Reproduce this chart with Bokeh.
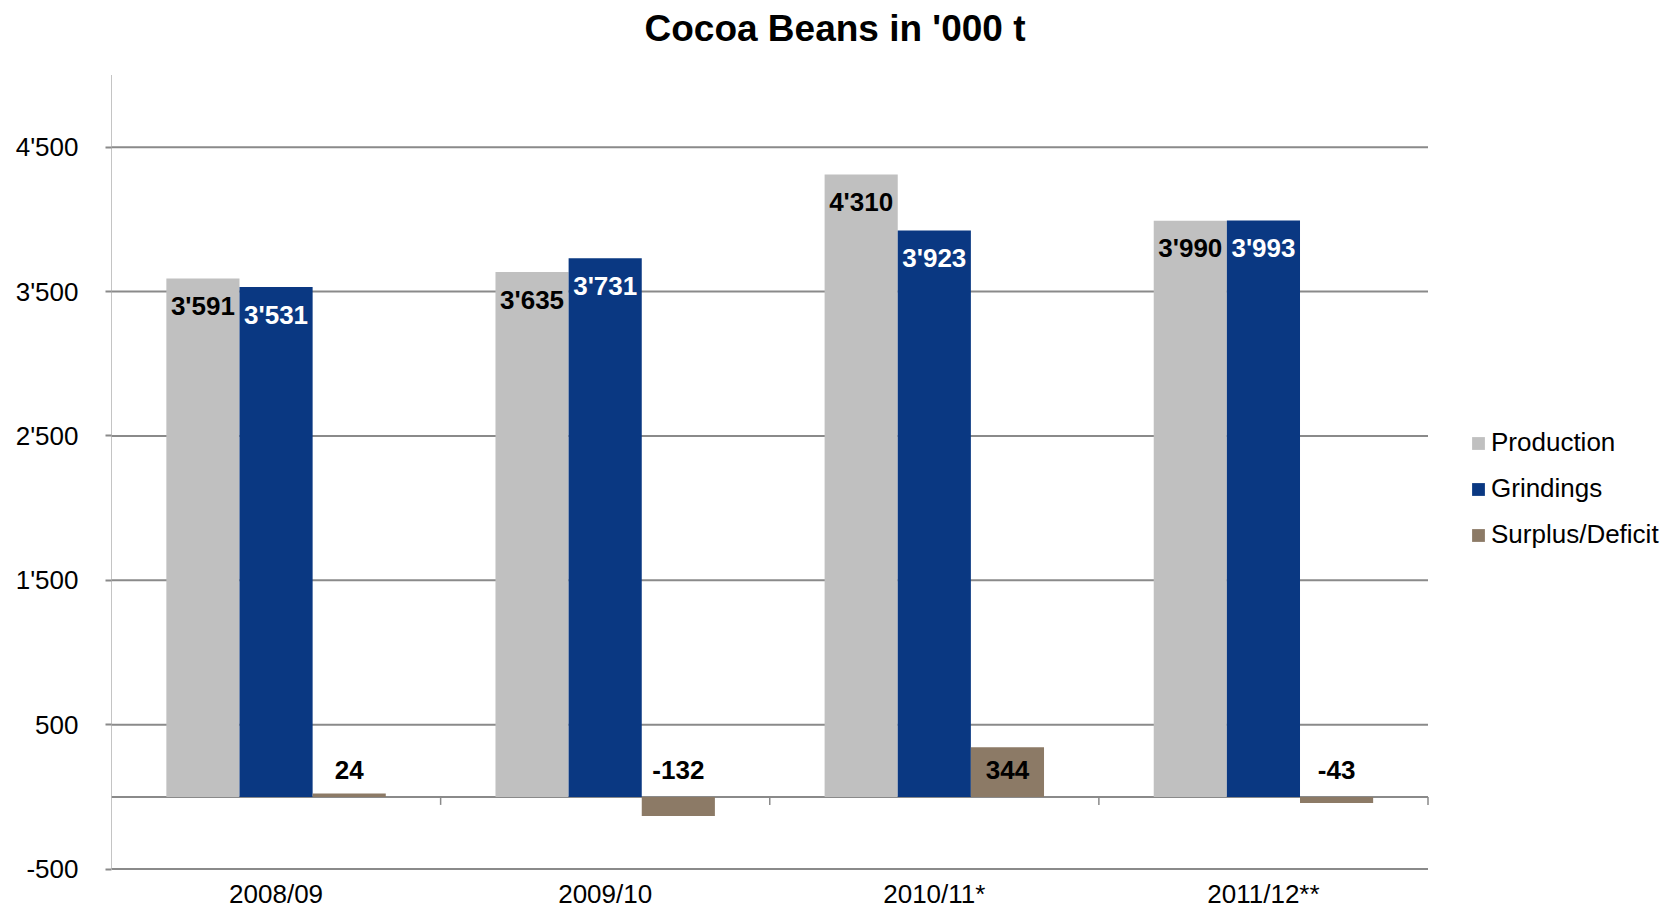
from math import pi
from bokeh.plotting import figure
from bokeh.models import (Range1d, FixedTicker, Legend, LegendItem,
                          ColumnDataSource, CustomJSTickFormatter)
from bokeh.core.properties import value
from bokeh.embed import file_html
from bokeh.resources import INLINE

# ---- data ----
title = "Cocoa Beans in '000 t"
categories = ["2008/09", "2009/10", "2010/11*", "2011/12**"]
production = [3591, 3635, 4310, 3990]
grindings = [3531, 3731, 3923, 3993]
surplus = [24, -132, 344, -43]
y_ticks = [-500, 500, 1500, 2500, 3500, 4500]
y_min, y_max = -500, 5000
series_names = ["Production", "Grindings", "Surplus/Deficit"]

# ---- style / layout (pixels) ----
colors = ["#C0C0C0", "#0A3882", "#8C7A66"]
label_colors = ["black", "white", "black"]
FONT = "Liberation Sans"
GRID = "#8A8A8A"
BAR_W = 1 / 4.5
W, H = 1669, 909
LEFT = 111              # left edge of the plot area
PLOT_W = 1316.5         # width of the plot area
PLOT_TOP = 74.5         # y of value y_max
PLOT_BOTTOM = 868.6     # y of value y_min
TITLE_Y = 27.7          # centre of the title
XLABEL_DY = 24.5        # category labels below the plot area
n = len(categories)

# the frame covers the whole canvas right of the value axis
x_end = n * (W - LEFT) / PLOT_W
k = (y_max - y_min) / (PLOT_BOTTOM - PLOT_TOP)     # data units per pixel
y_lo = y_min - (H - PLOT_BOTTOM) * k
y_hi = y_max + PLOT_TOP * k


def fmt(v):
    s = f"{abs(v):,}".replace(",", "'")
    return ("-" if v < 0 else "") + s


p = figure(width=W, height=H, output_backend="svg", toolbar_location=None,
           x_range=Range1d(0, x_end), y_range=Range1d(y_lo, y_hi),
           min_border_left=LEFT, min_border_right=0, min_border_top=0,
           min_border_bottom=0)
p.outline_line_color = None
p.background_fill_color = "white"
p.border_fill_color = "white"
p.xaxis.visible = False
p.xgrid.visible = False
p.ygrid.visible = False

# horizontal gridlines over the plot area only
p.segment(x0=[0] * len(y_ticks), x1=[n] * len(y_ticks), y0=y_ticks, y1=y_ticks,
          line_color=GRID, line_width=2)
# zero (category axis) line
p.segment(x0=[0], x1=[n], y0=[0], y1=[0], line_color=GRID, line_width=2)
# value axis line
p.segment(x0=[0], x1=[0], y0=[y_min], y1=[y_max], line_color=GRID, line_width=1)
# category boundary ticks on the zero line
bounds = list(range(1, n + 1))
p.ray(x=bounds, y=[0] * len(bounds), length=8, length_units="screen",
      angle=-pi / 2, line_color=GRID, line_width=1.5)

# y axis (labels + ticks)
yax = p.yaxis[0]
yax.ticker = FixedTicker(ticks=y_ticks)
yax.formatter = CustomJSTickFormatter(code="""
const s = Math.abs(tick).toString().replace(/\\B(?=(\\d{3})+(?!\\d))/g, "'");
return (tick < 0 ? "-" : "") + s;
""")
yax.axis_line_color = None
yax.major_tick_out = 6
yax.major_tick_in = 0
yax.major_tick_line_color = GRID
yax.major_tick_line_width = 2
yax.minor_tick_line_color = None
yax.major_label_standoff = 27
yax.major_label_text_font = FONT
yax.major_label_text_font_size = "26px"
yax.major_label_text_color = "black"

xs = [i + 0.5 for i in range(n)]
fields = ["production", "grindings", "surplus"]
offsets = [-BAR_W, 0, BAR_W]
data = dict(production=production, grindings=grindings, surplus=surplus)
src = ColumnDataSource(dict(
    cat=categories, xc=xs,
    **data,
    **{f + "_x": [x + o for x in xs] for f, o in zip(fields, offsets)},
    **{f + "_lbl": [fmt(v) for v in data[f]] for f in fields},
    zero=[0] * n, ybase=[y_min] * n,
))

# category labels
p.text(x="xc", y="ybase", text="cat", source=src, text_align="center",
       text_baseline="middle", y_offset=XLABEL_DY, text_font=value(FONT),
       text_font_size="26px", text_color="black")

renderers = []
for f, col in zip(fields, colors):
    r = p.vbar(x=f + "_x", top=f, bottom=0, width=BAR_W, source=src,
               fill_color=col, line_color=None)
    renderers.append(r)

# data labels
for f, lc in zip(fields[:2], label_colors[:2]):
    p.text(x=f + "_x", y=f, text=f + "_lbl", source=src,
           text_align="center", text_baseline="middle", y_offset=27.5,
           text_font=value(FONT), text_font_style="bold", text_font_size="26px",
           text_color=lc)
p.text(x="surplus_x", y="zero", text="surplus_lbl", source=src,
       text_align="center", text_baseline="middle", y_offset=-27,
       text_font=value(FONT), text_font_style="bold", text_font_size="26px",
       text_color=label_colors[2])

# title, centred on the canvas
p.text(x=[(W / 2 - LEFT) / PLOT_W * n], y=[y_max], text=[title],
       text_align="center", text_baseline="middle", y_offset=-(PLOT_TOP - TITLE_Y),
       text_font=value(FONT), text_font_style="bold", text_font_size="37px",
       text_color="black")

legend = Legend(items=[LegendItem(label=nm, renderers=[r]) for nm, r in zip(series_names, renderers)],
                location=(1359, 359))
legend.border_line_color = None
legend.background_fill_alpha = 0
legend.glyph_width = 16
legend.glyph_height = 16
legend.label_standoff = 5
legend.spacing = 15
legend.padding = 0
legend.margin = 0
legend.label_text_font = FONT
legend.label_text_font_size = "26px"
legend.label_text_color = "black"
p.add_layout(legend)

open("out.html", "w").write(file_html(p, INLINE))
